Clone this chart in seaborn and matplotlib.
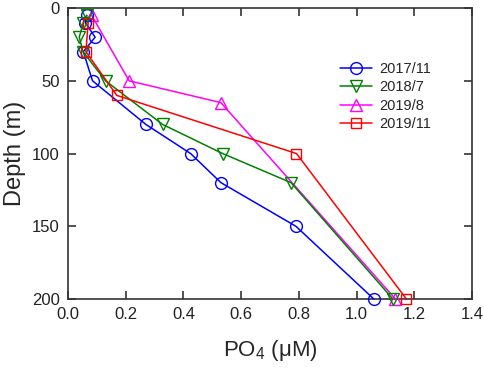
import matplotlib
matplotlib.use("Agg")
import matplotlib.pyplot as plt
import seaborn as sns

# Data (PO4 in uM vs depth in m)
depth_1711 = [5, 10, 20, 30, 50, 80, 100, 120, 150, 200]
po4_1711 = [0.065, 0.06, 0.094, 0.053, 0.085, 0.27, 0.425, 0.53, 0.79, 1.06]

depth_1807 = [5, 10, 20, 30, 50, 80, 100, 120, 200]
po4_1807 = [0.065, 0.053, 0.039, 0.052, 0.13, 0.328, 0.536, 0.773, 1.126]

depth_1908 = [5, 50, 65, 200]
po4_1908 = [0.082, 0.212, 0.53, 1.135]

depth_1911 = [10, 30, 60, 100, 200]
po4_1911 = [0.07, 0.062, 0.169, 0.792, 1.173]

labels = ["2017/11", "2018/7", "2019/8", "2019/11"]
colors = ["blue", "green", "magenta", "red"]
markers = ["o", "v", "^", "s"]
orders = [3, 3.2, 2.8, 3.4]

sns.set_style("ticks")
plt.rcParams["font.family"] = ["Liberation Sans", "DejaVu Sans"]
plt.rcParams["mathtext.fontset"] = "custom"
plt.rcParams["mathtext.rm"] = "Liberation Sans"

fig = plt.figure(figsize=(4.84, 3.68), dpi=100)
ax = fig.add_axes([0.1405, 0.1875, 0.8345, 0.7905])

series = [(po4_1711, depth_1711), (po4_1807, depth_1807),
          (po4_1908, depth_1908), (po4_1911, depth_1911)]
for (xs, ys), lab, c, m, z in zip(series, labels, colors, markers, orders):
    sns.lineplot(x=xs, y=ys, sort=False, estimator=None, ax=ax,
                 color=c, marker=m, markersize=8.5 if m != "s" else 7.5,
                 markerfacecolor="none", markeredgecolor=c,
                 markeredgewidth=1.0, linewidth=1.1, label=lab,
                 clip_on=False, zorder=z)

ax.set_xlim(0, 1.4)
ax.set_ylim(200, 0)
ax.set_xticks([0.0, 0.2, 0.4, 0.6, 0.8, 1.0, 1.2, 1.4])
ax.set_xticklabels(["0.0", "0.2", "0.4", "0.6", "0.8", "1.0", "1.2", "1.4"])
ax.set_yticks([0, 50, 100, 150, 200])
ax.tick_params(direction="in", length=6, width=1.1, top=True, right=True,
               labelsize=12, colors="#222222", pad=6)
for s in ax.spines.values():
    s.set_color("#333333")
    s.set_linewidth(1.2)

ax.set_xlabel("PO$_4$ (μM)", fontsize=16, labelpad=11)
ax.set_ylabel("Depth (m)", fontsize=17, labelpad=4)

ax.legend(frameon=False, fontsize=10.5, loc="upper left",
          bbox_to_anchor=(0.64, 0.86), handlelength=2.2,
          labelspacing=0.3, handletextpad=0.5)

fig.savefig("out.png", dpi=100)
